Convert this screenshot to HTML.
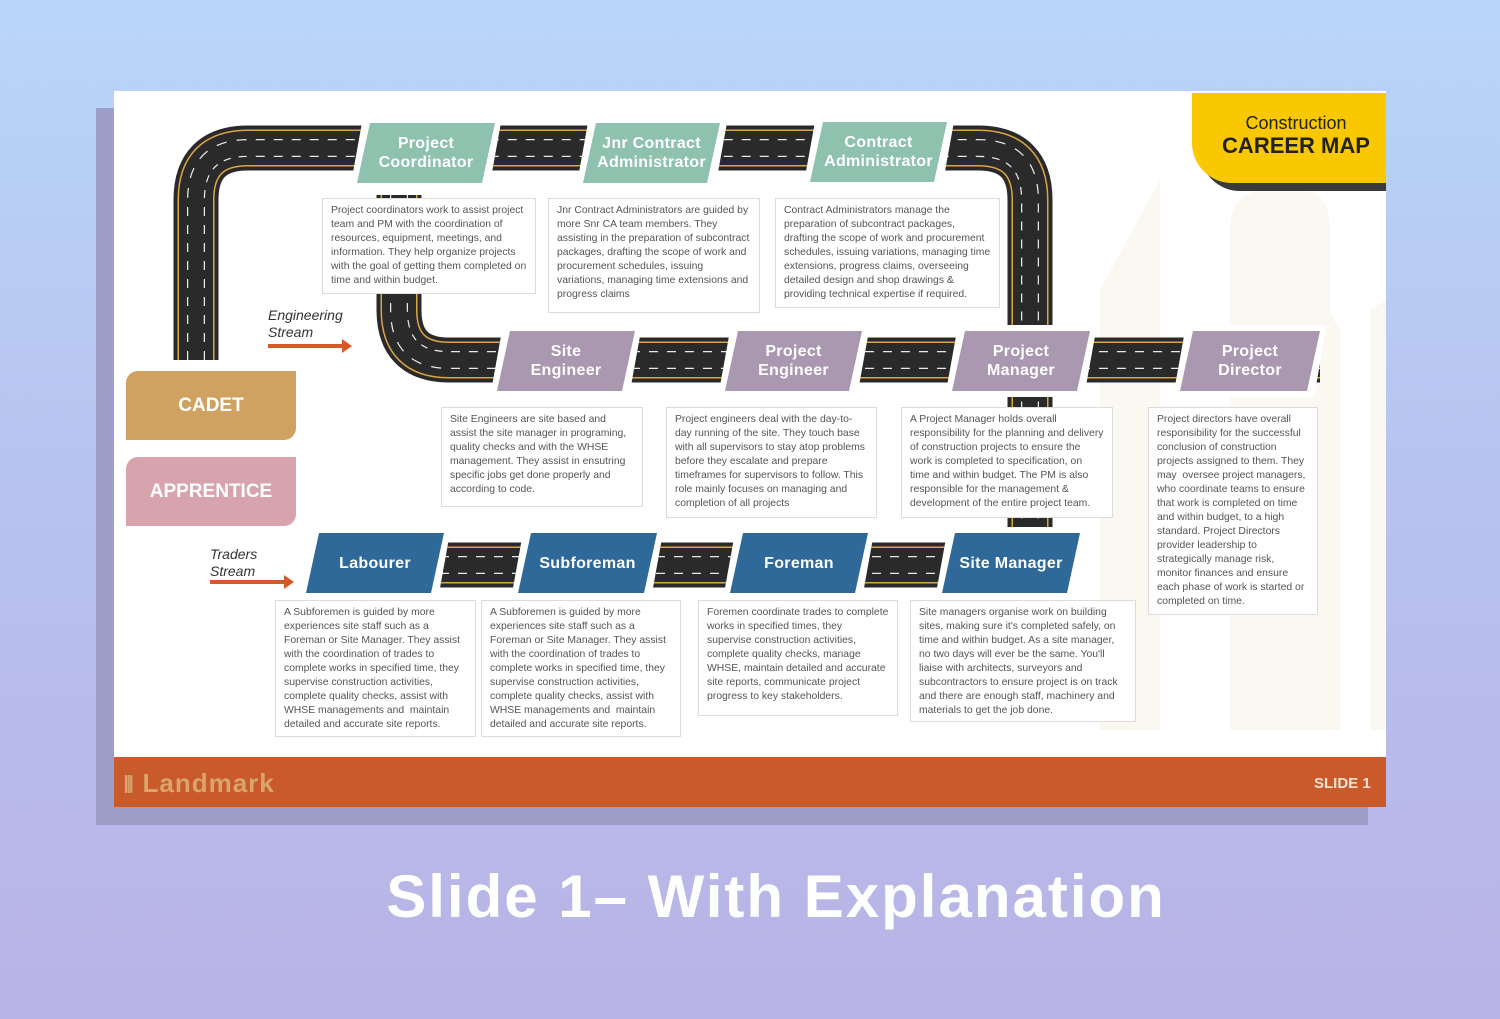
<!DOCTYPE html>
<html><head><meta charset="utf-8"><style>
*{margin:0;padding:0;box-sizing:border-box}
body{width:1500px;height:1019px;overflow:hidden;background:linear-gradient(180deg,#b9d6f9 0%,#b7c2ee 50%,#b9b3e5 100%);font-family:"Liberation Sans",sans-serif;position:relative}
.abs{position:absolute}
.shadow{left:96px;top:108px;width:1272px;height:717px;background:#9d9ec8}
.slide{left:114px;top:91px;width:1272px;height:716px;background:#fff;overflow:hidden}
.footer{left:114px;top:757px;width:1272px;height:50px;background:#c95a2b}
.lbl{position:absolute;height:60px;color:#fff;font-weight:bold;font-size:16px;line-height:19px;text-align:center;display:flex;align-items:center;justify-content:center;clip-path:polygon(13px 0,100% 0,calc(100% - 13px) 100%,0 100%);letter-spacing:.3px}
.wb{position:absolute;background:#fff;clip-path:polygon(13px 0,100% 0,calc(100% - 13px) 100%,0 100%)}
.t{background:#8ec1ae}.p{background:#a998b0}.b{background:#2e6999}
.box{position:absolute;background:#fff;border:1.5px solid #dcdcdc;font-size:10.4px;line-height:14px;color:#555;padding:5px 8px}
.it{position:absolute;font-style:italic;font-size:14px;line-height:17px;color:#333}
.arr{position:absolute;height:4px;background:#d9582a}
.arr:after{content:"";position:absolute;right:-8px;top:-5px;border-left:10px solid #d9582a;border-top:7px solid transparent;border-bottom:7px solid transparent}
</style></head><body>
<div class="abs shadow"></div>
<div class="abs slide"></div>
<svg class="abs" style="left:0;top:0" width="1500" height="1019">
<g fill="#fbf7f1">
<path d="M1100 730 V290 L1160 180 V730Z"/>
<path d="M1230 730 V230 Q1230 190 1270 190 H1300 Q1330 190 1330 230 V730Z"/>
<path d="M1290 730 V250 L1340 330 V730Z"/>
<path d="M1370 730 V310 L1386 300 V730Z"/>
</g>
</svg>
<svg class="abs" style="left:0;top:0" width="1500" height="1019">
<defs>
<g id="r1"><path d="M196 360 V200 Q196 148 248 148 H978 Q1030 148 1030 200 V545" fill="none"/></g>
<g id="r2"><path d="M399 195 V310 Q399 360 449 360 H1320" fill="none"/></g>
<g id="r3"><path d="M440 565 H1070" fill="none"/></g>
</defs>
<g fill="none">
<g stroke="#2a2a2a" stroke-width="45"><use href="#r1"/><use href="#r2"/><use href="#r3"/></g>
<g stroke="#d9a546" stroke-width="37"><use href="#r1"/><use href="#r2"/><use href="#r3"/></g>
<g stroke="#2a2a2a" stroke-width="34"><use href="#r1"/><use href="#r2"/><use href="#r3"/></g>
<g stroke="#e8e8e8" stroke-width="18" stroke-dasharray="9 9"><use href="#r1"/><use href="#r2"/><use href="#r3"/></g>
<g stroke="#2a2a2a" stroke-width="15.5"><use href="#r1"/><use href="#r2"/><use href="#r3"/></g>
</g>
</svg>

<div class="wb" style="left:350px;top:117px;width:152px;height:72px"></div>
<div class="lbl t" style="left:357px;top:123px;width:138px">Project<br>Coordinator</div>
<div class="wb" style="left:576px;top:117px;width:152px;height:72px"></div>
<div class="lbl t" style="left:583px;top:123px;width:137px">Jnr Contract<br>Administrator</div>
<div class="wb" style="left:803px;top:116px;width:152px;height:72px"></div>
<div class="lbl t" style="left:810px;top:122px;width:137px">Contract<br>Administrator</div>

<div class="wb" style="left:490px;top:325px;width:152px;height:72px"></div>
<div class="lbl p" style="left:497px;top:331px;width:138px">Site<br>Engineer</div>
<div class="wb" style="left:718px;top:325px;width:152px;height:72px"></div>
<div class="lbl p" style="left:725px;top:331px;width:137px">Project<br>Engineer</div>
<div class="wb" style="left:945px;top:325px;width:152px;height:72px"></div>
<div class="lbl p" style="left:952px;top:331px;width:138px">Project<br>Manager</div>
<div class="wb" style="left:1173px;top:325px;width:154px;height:72px"></div>
<div class="lbl p" style="left:1180px;top:331px;width:140px">Project<br>Director</div>

<div class="wb" style="left:299px;top:527px;width:152px;height:72px"></div>
<div class="lbl b" style="left:306px;top:533px;width:138px">Labourer</div>
<div class="wb" style="left:511px;top:527px;width:153px;height:72px"></div>
<div class="lbl b" style="left:518px;top:533px;width:139px">Subforeman</div>
<div class="wb" style="left:723px;top:527px;width:152px;height:72px"></div>
<div class="lbl b" style="left:730px;top:533px;width:138px">Foreman</div>
<div class="wb" style="left:935px;top:527px;width:152px;height:72px"></div>
<div class="lbl b" style="left:942px;top:533px;width:138px">Site Manager</div>

<div class="box" style="left:322px;top:198px;width:214px;height:96px">Project coordinators work to assist project team and PM with the coordination of resources, equipment, meetings, and information. They help organize projects with the goal of getting them completed on time and within budget.</div>
<div class="box" style="left:548px;top:198px;width:212px;height:115px">Jnr Contract Administrators are guided by more Snr CA team members. They assisting in the preparation of subcontract packages, drafting the scope of work and procurement schedules, issuing variations, managing time extensions and progress claims</div>
<div class="box" style="left:775px;top:198px;width:225px;height:110px">Contract Administrators manage the preparation of subcontract packages, drafting the scope of work and procurement schedules, issuing variations, managing time extensions, progress claims, overseeing detailed design and shop drawings &amp; providing technical expertise if required.</div>
<div class="box" style="left:441px;top:407px;width:202px;height:100px">Site Engineers are site based and assist the site manager in programing, quality checks and with the WHSE management. They assist in ensutring specific jobs get done properly and according to code.</div>
<div class="box" style="left:666px;top:407px;width:211px;height:111px">Project engineers deal with the day-to-day running of the site. They touch base with all supervisors to stay atop problems before they escalate and prepare timeframes for supervisors to follow. This role mainly focuses on managing and completion of all projects</div>
<div class="box" style="left:901px;top:407px;width:212px;height:111px">A Project Manager holds overall responsibility for the planning and delivery of construction projects to ensure the work is completed to specification, on time and within budget. The PM is also responsible for the management &amp; development of the entire project team.</div>
<div class="box" style="left:1148px;top:407px;width:170px;height:208px">Project directors have overall responsibility for the successful conclusion of construction projects assigned to them. They may &nbsp;oversee project managers, who coordinate teams to ensure that work is completed on time and within budget, to a high standard. Project Directors provider leadership to strategically manage risk, monitor finances and ensure each phase of work is started or completed on time.</div>
<div class="box" style="left:275px;top:600px;width:201px;height:137px">A Subforemen is guided by more experiences site staff such as a Foreman or Site Manager. They assist with the coordination of trades to complete works in specified time, they supervise construction activities, complete quality checks, assist with WHSE managements and &nbsp;maintain detailed and accurate site reports.</div>
<div class="box" style="left:481px;top:600px;width:200px;height:137px">A Subforemen is guided by more experiences site staff such as a Foreman or Site Manager. They assist with the coordination of trades to complete works in specified time, they supervise construction activities, complete quality checks, assist with WHSE managements and &nbsp;maintain detailed and accurate site reports.</div>
<div class="box" style="left:698px;top:600px;width:200px;height:116px">Foremen coordinate trades to complete works in specified times, they supervise construction activities, complete quality checks, manage WHSE, maintain detailed and accurate site reports, communicate project progress to key stakeholders.</div>
<div class="box" style="left:910px;top:600px;width:226px;height:122px">Site managers organise work on building sites, making sure it's completed safely, on time and within budget. As a site manager, no two days will ever be the same. You'll liaise with architects, surveyors and subcontractors to ensure project is on track and there are enough staff, machinery and materials to get the job done.</div>

<div class="it" style="left:268px;top:307px">Engineering<br>Stream</div>
<div class="arr" style="left:268px;top:344px;width:76px"></div>
<div class="it" style="left:210px;top:546px">Traders<br>Stream</div>
<div class="arr" style="left:210px;top:580px;width:76px"></div>

<div class="abs" style="left:126px;top:371px;width:170px;height:69px;background:#cfa262;border-radius:12px 0 12px 0;color:#fff;font-weight:bold;font-size:19px;display:flex;align-items:center;justify-content:center">CADET</div>
<div class="abs" style="left:126px;top:457px;width:170px;height:69px;background:#d7a4ae;border-radius:12px 0 12px 0;color:#fff;font-weight:bold;font-size:19px;display:flex;align-items:center;justify-content:center">APPRENTICE</div>

<div class="abs" style="left:1200px;top:100px;width:186px;height:91px;background:#3a3a3a;border-radius:0 0 0 40px"></div>
<div class="abs" style="left:1192px;top:93px;width:194px;height:90px;background:#f9c800;border-radius:0 0 0 40px;text-align:center;color:#222">
<div style="font-size:18px;margin-top:20px;line-height:20px;padding-left:14px">Construction</div>
<div style="font-size:22px;font-weight:bold;line-height:26px;padding-left:14px">CAREER MAP</div></div>

<div class="abs footer"></div>
<div class="abs" style="left:124px;top:768px;color:#d9a56a;font-size:26px;font-weight:bold;letter-spacing:1px"><span style="font-size:22px">⫴</span> Landmark</div>
<div class="abs" style="left:1314px;top:775px;color:#fbe3d3;font-weight:bold;font-size:15px">SLIDE 1</div>

<div class="abs" style="left:0;top:862px;width:1552px;text-align:center;color:#fff;font-weight:bold;font-size:60px;letter-spacing:2px">Slide 1– With Explanation</div>
</body></html>
